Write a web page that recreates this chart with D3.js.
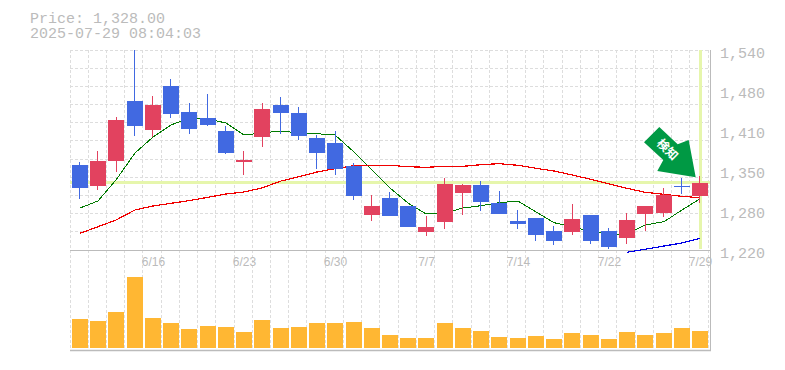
<!DOCTYPE html>
<html>
<head>
<meta charset="utf-8">
<script src="https://cdn.jsdelivr.net/npm/d3@7"></script>
<style>
    html, body { margin: 0; padding: 0; background: #fff; }
    svg { display: block; }
</style>
</head>
<body>
<svg id="chart" width="785" height="370"></svg>
<script>
const titleLines = ['Price: 1,328.00', '2025-07-29 08:04:03'];
const days = d3.range(35);
const open = [1356,1322.9,1362.9,1458.4,1412,1482.4,1440.8,1431.2,1410.4,1360.8,1401.3,1452,1439.2,1399.2,1391.2,1354.4,1276,1303.2,1290.4,1248.8,1264.8,1311.2,1324,1295.2,1266.4,1271.2,1250.4,1248.8,1276,1250.4,1239.2,1277.6,1279.2,1322.4,1306.4];
const high = [1360.8,1378.4,1432.8,1540,1466.4,1493.6,1455.2,1469.6,1418.4,1378.4,1455.2,1464.8,1448.8,1404,1410.4,1359.2,1308,1312.8,1290.4,1274.4,1335.2,1325.6,1330.4,1314.4,1284,1271.2,1258.4,1293.6,1276,1255.2,1279.2,1290.4,1319.2,1335.2,1338.4];
const low = [1301.6,1316,1344.8,1402.4,1401.3,1431.2,1405.6,1418.4,1373.6,1340,1384.8,1405.6,1396,1349.6,1340,1300,1266.4,1274.4,1256.8,1242.4,1253.6,1276,1282.4,1277.6,1253.6,1234.4,1228,1244,1229.6,1221.6,1229.6,1250.4,1272.8,1309.6,1295.2];
const close = [1319.7,1362.4,1428,1418.4,1452,1437.6,1413.6,1420,1375.2,1364,1445.6,1439.2,1402.4,1375.2,1349.6,1306.4,1290.4,1274.4,1256.8,1256.8,1325.6,1324,1296.8,1277.6,1261.6,1244,1234.4,1269.6,1234.4,1224.8,1268,1290.4,1308,1320.8,1328];
const maShort = [1287.2,1298.4,1332,1375.2,1400.8,1420,1431.2,1429.6,1423.2,1404,1407.2,1410.4,1407.2,1406,1404,1376.8,1348,1319.2,1295.2,1277.6,1279.2,1287.2,1290.9,1295.7,1298.4,1280.8,1263.7,1257.3,1249.3,1245.6,1245.6,1260,1265.3,1284,1302];
const maMid = [1246.7,1257.3,1268,1284,1290.4,1294.7,1298.9,1304.3,1309.6,1312.8,1319.2,1330.4,1337.3,1344.8,1350.1,1354.9,1355.5,1355.5,1353.3,1352.3,1353.9,1353.9,1356.5,1358.1,1355.5,1350.7,1346.4,1340,1333.1,1325.6,1318.7,1312.3,1309.1,1305.9,1303.7];
const maLong = [null,null,null,null,null,null,null,null,null,null,null,null,null,null,null,null,null,null,null,null,null,null,null,null,null,null,null,null,null,null,1216.3,1221.1,1226.4,1231.2,1238.7];
const volume = [290,270,360,710,300,250,190,220,210,160,280,200,210,250,250,260,200,130,100,100,250,200,170,110,100,120,90,150,130,90,160,130,150,200,170];
const priceTicks = [1540,1476,1412,1348,1284,1220];
const priceLabels = ['1,540','1,480','1,410','1,350','1,280','1,220'];
const dateLabels = [[4,'6/16'],[9,'6/23'],[14,'6/30'],[19,'7/7'],[24,'7/14'],[29,'7/22'],[34,'7/29']];
const lastPrice = 1328;

const width = 785, height = 370;
const plot = { left: 70, right: 710, top: 50, bottom: 250, volBottom: 348 };
const gray = '#bbbbbb', gridColor = '#dddddd';
const upColor = '#e2425f', downColor = '#4169e1';

const svg = d3.select('#chart').attr('viewBox', `0 0 ${width} ${height}`);

const x = d3.scaleBand().domain(days).range([plot.left, 708.23]);
const xGrid = d3.scaleLinear().domain([0, 35]).range([plot.left, 708.05]);
const y = d3.scaleLinear().domain([1220, 1540]).range([plot.bottom, plot.top]);
const yVol = d3.scaleLinear().domain([0, 710]).range([plot.volBottom, 277]);

const bodyLeft = d => Math.round(x(d)) + 2;
const center = d => bodyLeft(d) + 8;
const snap = v => Math.round(v);

// grid
const gridY = d3.range(12).map(i => plot.top + i * (plot.bottom - plot.top) / 11);
svg.append('g').selectAll('line').data(gridY).join('line')
    .attr('x1', plot.left).attr('x2', plot.right)
    .attr('y1', d => Math.floor(d) + 0.5).attr('y2', d => Math.floor(d) + 0.5)
    .attr('stroke', gridColor).attr('stroke-dasharray', '3 2');

svg.append('g').selectAll('line').data(d3.range(36)).join('line')
    .attr('x1', d => Math.floor(xGrid(d)) + 0.5).attr('x2', d => Math.floor(xGrid(d)) + 0.5)
    .attr('y1', plot.top).attr('y2', 350)
    .attr('stroke', gridColor).attr('stroke-dasharray', '3 2');

// current price cross hair
svg.append('line')
    .attr('x1', plot.left).attr('x2', plot.right)
    .attr('y1', y(lastPrice)).attr('y2', y(lastPrice))
    .attr('stroke', '#e6f6ac').attr('stroke-width', 3);
svg.append('line')
    .attr('x1', center(34) + 0.5).attr('x2', center(34) + 0.5)
    .attr('y1', plot.top).attr('y2', 249)
    .attr('stroke', '#e6f6ac').attr('stroke-width', 3);

// frame
svg.append('line').attr('x1', plot.left).attr('x2', plot.right + 1)
    .attr('y1', plot.bottom + 0.5).attr('y2', plot.bottom + 0.5).attr('stroke', gray);
svg.append('line').attr('x1', plot.left).attr('x2', plot.right + 1)
    .attr('y1', 350.5).attr('y2', 350.5).attr('stroke', gray).attr('stroke-width', 1.5);
svg.append('line').attr('x1', plot.right + 0.5).attr('x2', plot.right + 0.5)
    .attr('y1', plot.top).attr('y2', 351).attr('stroke', gray);

// moving averages go under the candles
const line = d3.line()
    .defined(d => d.v !== null)
    .x(d => center(d.i))
    .y(d => y(d.v));
[[maShort, '#007a00', 1], [maMid, '#f00000', 1.2], [maLong, '#0000e6', 1.2]].forEach(([values, color, w]) => {
    svg.append('path')
        .datum(values.map((v, i) => ({ i, v })))
        .attr('fill', 'none').attr('stroke', color).attr('stroke-width', w)
        .attr('shape-rendering', 'crispEdges')
        .attr('d', line);
});

// candles
const wickLeft = d => Math.floor(x(d) + x.bandwidth() / 2 + 0.6);
const candles = svg.append('g').selectAll('g').data(days).join('g')
    .attr('fill', d => close[d] >= open[d] ? upColor : downColor);
candles.append('rect')
    .attr('x', wickLeft).attr('width', 1)
    .attr('y', d => snap(y(high[d])))
    .attr('height', d => snap(y(low[d])) - snap(y(high[d])));
candles.append('rect')
    .attr('x', d => bodyLeft(d)).attr('width', 16)
    .attr('y', d => snap(y(Math.max(open[d], close[d]))))
    .attr('height', d => Math.max(1, snap(y(Math.min(open[d], close[d]))) - snap(y(Math.max(open[d], close[d])))));

// volume
svg.append('g').selectAll('rect').data(days).join('rect')
    .attr('x', d => bodyLeft(d)).attr('width', 16)
    .attr('y', d => snap(yVol(volume[d])))
    .attr('height', d => plot.volBottom - snap(yVol(volume[d])))
    .attr('fill', '#ffb733');

// arrow pointing at the last candle
const arrow = svg.append('g')
    .attr('transform', `translate(${center(34) - 4.3}, ${y(high[34]) + 1.3})`);
arrow.append('path')
    .attr('d', 'M-36.4,-50.3 L-51.7,-35 L-32.4,-17.3 L-38.4,-6.3 L0,0 L-7,-37.3 L-18,-33 Z')
    .attr('fill', '#009944');
arrow.append('text')
    .attr('transform', 'translate(-29,-27) rotate(45)')
    .attr('text-anchor', 'middle')
    .attr('dominant-baseline', 'middle')
    .attr('font-family', '"Noto Sans CJK JP"')
    .attr('font-weight', 'bold')
    .attr('font-size', '12px')
    .attr('fill', '#fff')
    .text('検知');

// labels
svg.append('g').selectAll('text').data(titleLines).join('text')
    .attr('x', 30).attr('y', (d, i) => 23 + i * 15)
    .attr('font-family', '"Liberation Mono"').attr('font-size', '15px')
    .attr('fill', gray).text(d => d);

svg.append('g').selectAll('text').data(priceTicks).join('text')
    .attr('x', 720).attr('y', d => y(d) + 8)
    .attr('font-family', '"Liberation Mono"').attr('font-size', '15px')
    .attr('fill', gray).text((d, i) => priceLabels[i]);

svg.append('g').selectAll('text').data(dateLabels).join('text')
    .attr('x', d => center(d[0]) + 0.5).attr('y', 266)
    .attr('text-anchor', 'middle')
    .attr('font-family', '"Liberation Sans"').attr('font-size', '12px')
    .attr('fill', gray).text(d => d[1]);
</script>
</body>
</html>
